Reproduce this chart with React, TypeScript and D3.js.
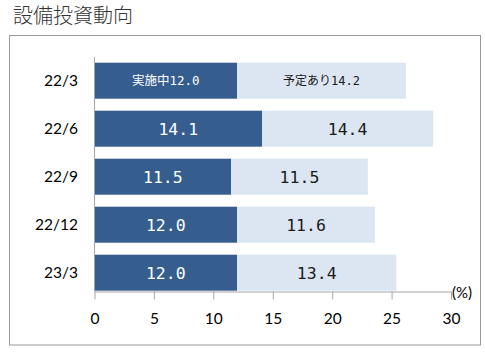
import React, { useRef, useEffect } from 'react';
import * as d3 from 'd3';

const categories = ['22/3', '22/6', '22/9', '22/12', '23/3'];
const doing = [12.0, 14.1, 11.5, 12.0, 12.0];
const planned = [14.2, 14.4, 11.5, 11.6, 13.4];
const xTicks = [0, 5, 10, 15, 20, 25, 30];

const W = 485;
const H = 354;

export default function App() {
  const ref = useRef<SVGSVGElement>(null);

  useEffect(() => {
    const svg = d3.select(ref.current);
    svg.selectAll('*').remove();

    const x = d3.scaleLinear().domain([0, 30]).range([94.5, 451]);
    const y = d3.scaleBand().domain(categories).range([56.7, 296.7]).paddingInner(0.25).paddingOuter(0.125);

    svg.append('text')
      .attr('x', 13).attr('y', 23)
      .attr('font-family', 'Noto Sans CJK JP')
      .attr('font-weight', 300)
      .attr('font-size', 20)
      .attr('fill', '#333')
      .text('設備投資動向');

    svg.append('rect')
      .attr('x', 9.5).attr('y', 35.5)
      .attr('width', 471).attr('height', 309.5)
      .attr('fill', 'none').attr('stroke', '#9a9a9a');

    const rows = categories.map((c, i) => ({ c, a: doing[i], b: planned[i], i }));
    const g = svg.append('g');

    g.selectAll('rect.a').data(rows).enter().append('rect')
      .attr('x', x(0))
      .attr('y', d => y(d.c)!)
      .attr('width', d => x(d.a) - x(0))
      .attr('height', y.bandwidth())
      .attr('fill', '#355e8f');

    g.selectAll('rect.b').data(rows).enter().append('rect')
      .attr('x', d => x(d.a))
      .attr('y', d => y(d.c)!)
      .attr('width', d => x(d.a + d.b) - x(d.a))
      .attr('height', y.bandwidth())
      .attr('fill', '#dce6f2');

    const labFont = '"DejaVu Sans Mono", "Noto Sans CJK JP", monospace';
    g.selectAll('text.a').data(rows).enter().append('text')
      .attr('x', d => (x(0) + x(d.a)) / 2)
      .attr('y', d => y(d.c)! + y.bandwidth() / 2)
      .attr('dy', '0.36em')
      .attr('text-anchor', 'middle')
      .attr('font-family', labFont)
      .attr('font-size', d => (d.i === 0 ? 12.5 : 16.5))
      .attr('fill', '#fff')
      .text(d => (d.i === 0 ? '実施中' : '') + d.a.toFixed(1));

    g.selectAll('text.b').data(rows).enter().append('text')
      .attr('x', d => (x(d.a) + x(d.a + d.b)) / 2)
      .attr('y', d => y(d.c)! + y.bandwidth() / 2)
      .attr('dy', '0.36em')
      .attr('text-anchor', 'middle')
      .attr('font-family', labFont)
      .attr('font-size', d => (d.i === 0 ? 12 : 16.5))
      .attr('fill', '#1a1a1a')
      .text(d => (d.i === 0 ? '予定あり' : '') + d.b.toFixed(1));

    // category labels
    g.selectAll('text.cat').data(rows).enter().append('text')
      .attr('x', 78)
      .attr('y', d => y(d.c)! + y.bandwidth() / 2)
      .attr('dy', '0.35em')
      .attr('text-anchor', 'end')
      .attr('font-family', 'Lato')
      .attr('font-size', 15.5)
      .attr('fill', '#000')
      .text(d => d.c);

    // axes
    const axisY = 291.5;
    g.append('line')
      .attr('x1', x(0)).attr('x2', x(0))
      .attr('y1', 57).attr('y2', axisY)
      .attr('stroke', '#a6a6a6');

    const xAxis = d3.axisBottom(x).tickValues(xTicks).tickSize(8).tickPadding(13).tickSizeOuter(0);
    const ax = g.append('g').attr('transform', `translate(0,${axisY})`).call(xAxis);
    ax.select('.domain').attr('stroke', '#a6a6a6');
    ax.selectAll('.tick line').attr('stroke', '#a6a6a6');
    ax.selectAll('.tick text')
      .attr('font-family', 'Lato')
      .attr('font-size', 15.5)
      .attr('fill', '#000');

    g.append('text')
      .attr('x', 452).attr('y', 298)
      .attr('font-family', 'Lato')
      .attr('font-size', 15)
      .attr('fill', '#000')
      .text('(%)');
  }, []);

  return (
    <svg ref={ref} width={W} height={H} style={{ position: 'absolute', left: 0, top: 0, background: '#fff' }} />
  );
}
